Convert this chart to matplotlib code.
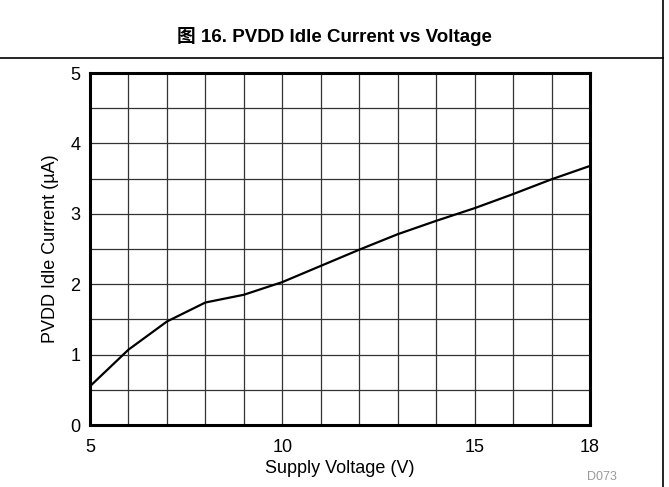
import matplotlib
matplotlib.use("Agg")
import matplotlib.pyplot as plt
from matplotlib.lines import Line2D
import numpy as np

plt.rcParams['font.family'] = ['Liberation Sans', 'Noto Sans CJK SC', 'DejaVu Sans']

# PVDD idle current vs supply voltage
voltage = [5, 6, 7, 8, 9, 10, 11, 12, 13, 14, 15, 16, 17, 18]
current = [0.55, 1.07, 1.47, 1.74, 1.85, 2.03, 2.26, 2.49, 2.71, 2.90, 3.08, 3.28, 3.49, 3.68]
xticks = [5, 10, 15, 18]
yticks = [0, 1, 2, 3, 4, 5]

W, H = 669, 487
fig = plt.figure(figsize=(W / 100, H / 100), dpi=100)

# frame lines of the figure box
fig.add_artist(Line2D([0, 663 / W], [1 - 58 / H, 1 - 58 / H], color='black', lw=1.2))
fig.add_artist(Line2D([663 / W, 663 / W], [0, 1], color='black', lw=1.2))

fig.text(334 / W, 1 - 37 / H, '图 16. PVDD Idle Current vs Voltage',
         ha='center', va='center', fontsize=13.5, fontweight='bold')

ax = fig.add_axes([90 / W, 1 - 425 / H, 500 / W, 352 / H])
ax.plot(voltage, current, color='black', lw=1.6, solid_joinstyle='round')

ax.set_xlim(5, 18)
ax.set_ylim(0, 5)
ax.set_xticks(xticks)
ax.set_yticks(yticks)
ax.set_xticks(np.arange(5, 19, 1), minor=True)
ax.set_yticks(np.arange(0, 5.01, 0.5), minor=True)
ax.grid(which='both', color='#333333', lw=0.9)
ax.tick_params(which='both', length=0, labelsize=13)
ax.tick_params(axis='x', pad=10)
ax.tick_params(axis='y', pad=7)
for s in ax.spines.values():
    s.set_linewidth(2.2)

ax.set_xlabel('Supply Voltage (V)', fontsize=13, labelpad=3)
ax.set_ylabel('PVDD Idle Current (µA)', fontsize=13, labelpad=8)

fig.text(602 / W, 1 - 477 / H, 'D073', ha='center', va='center',
         fontsize=9, color='#999999')

fig.savefig('out.png', dpi=100)
